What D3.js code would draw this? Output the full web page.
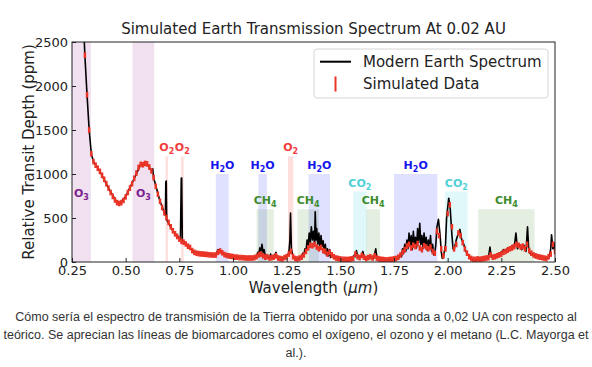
<!DOCTYPE html>
<html>
<head>
<meta charset="utf-8">
<script src="https://cdn.jsdelivr.net/npm/d3@7"></script>
<style>
  body { margin: 0; background: #fff; }
  #my_dataviz { position: absolute; left: 0; top: 0; }
  #caption {
    position: absolute; left: 0; top: 308px; width: 592px;
    text-align: center; font-family: "Liberation Sans", Arial, sans-serif;
    font-size: 12.5px; line-height: 18px; color: #333;
  }
</style>
</head>
<body>
<div id="my_dataviz"></div>
<div id="caption">Cómo sería el espectro de transmisión de la Tierra obtenido por una sonda a 0,02 UA con respecto al<br>teórico. Se aprecian las líneas de biomarcadores como el oxígeno, el ozono y el metano (L.C. Mayorga et<br>al.).</div>
<script>
const titleText = "Simulated Earth Transmission Spectrum At 0.02 AU"
const xTicks = [0.25, 0.5, 0.75, 1.0, 1.25, 1.5, 1.75, 2.0, 2.25, 2.5]
const yTicks = [0, 500, 1000, 1500, 2000, 2500]
const legendLabels = ["Modern Earth Spectrum", "Simulated Data"]

// absorption bands (µm) and their heights (ppm)
const bandNames = ["O3", "O3", "O2", "O2", "O2", "H2O", "H2O", "H2O", "H2O", "CH4", "CH4", "CH4", "CH4", "CO2", "CO2"]
const bandStart = [0.25, 0.532, 0.686, 0.758, 1.256, 0.92, 1.118, 1.352, 1.75, 1.11, 1.30, 1.62, 2.142, 1.56, 1.988]
const bandEnd   = [0.338, 0.633, 0.697, 0.770, 1.281, 0.98, 1.158, 1.452, 1.952, 1.19, 1.40, 1.685, 2.405, 1.622, 2.093]
const bandTop   = [2500, 2500, 1200, 1200, 1200, 1000, 1000, 1000, 1000, 600, 600, 600, 600, 800, 800]

// modern earth spectrum [wavelength, ppm]
const modernEarth = [
  [0.30, 2900], [0.31, 2350], [0.32, 1900], [0.33, 1500], [0.34, 1230], [0.35, 1140], [0.38, 1030],
  [0.42, 840], [0.46, 675], [0.47, 665], [0.50, 740], [0.54, 950], [0.57, 1110], [0.60, 1115],
  [0.62, 1035], [0.626, 1060], [0.63, 960], [0.66, 690], [0.685, 530], [0.687, 910], [0.689, 920],
  [0.691, 480], [0.72, 355], [0.755, 260], [0.759, 950], [0.761, 955], [0.764, 240], [0.79, 180],
  [0.82, 110], [0.86, 90], [0.92, 80], [0.93, 140], [0.94, 135], [0.95, 105], [0.97, 75], [1.00, 60],
  [1.05, 50], [1.10, 45], [1.11, 60], [1.115, 110], [1.12, 90], [1.125, 160], [1.13, 120], [1.135, 200],
  [1.14, 110], [1.145, 140], [1.15, 70], [1.16, 60], [1.17, 40], [1.175, 90], [1.18, 50], [1.19, 45],
  [1.20, 110], [1.205, 60], [1.21, 40], [1.23, 30], [1.24, 50], [1.25, 70], [1.26, 100], [1.265, 250],
  [1.268, 555], [1.272, 150], [1.28, 60], [1.29, 30], [1.30, 30], [1.31, 50], [1.32, 60], [1.325, 100],
  [1.33, 80], [1.335, 150], [1.34, 120], [1.345, 250], [1.35, 180], [1.355, 330], [1.36, 220], [1.365, 400],
  [1.37, 250], [1.375, 350], [1.38, 200], [1.383, 570], [1.387, 250], [1.39, 380], [1.395, 200], [1.40, 330],
  [1.405, 150], [1.41, 300], [1.415, 180], [1.42, 240], [1.425, 100], [1.43, 200], [1.435, 80], [1.44, 150],
  [1.445, 70], [1.45, 140], [1.455, 50], [1.46, 100], [1.47, 40], [1.48, 60], [1.49, 30], [1.50, 30],
  [1.52, 25], [1.55, 30], [1.56, 50], [1.565, 80], [1.57, 60], [1.575, 130], [1.58, 70], [1.59, 50],
  [1.60, 80], [1.605, 120], [1.61, 60], [1.62, 40], [1.63, 70], [1.64, 50], [1.65, 60], [1.655, 40],
  [1.665, 150], [1.67, 50], [1.68, 40], [1.70, 25], [1.75, 25], [1.77, 40], [1.78, 80], [1.785, 60],
  [1.79, 150], [1.795, 100], [1.80, 200], [1.805, 120], [1.81, 250], [1.815, 150], [1.82, 330], [1.825, 180],
  [1.83, 300], [1.835, 140], [1.84, 350], [1.845, 200], [1.85, 280], [1.855, 160], [1.86, 380], [1.865, 220],
  [1.87, 440], [1.875, 200], [1.88, 300], [1.885, 150], [1.89, 330], [1.895, 200], [1.90, 280], [1.905, 130],
  [1.91, 250], [1.915, 150], [1.92, 300], [1.925, 120], [1.93, 200], [1.935, 80], [1.94, 100], [1.945, 200],
  [1.95, 400], [1.957, 485], [1.965, 300], [1.97, 120], [1.975, 40], [1.98, 50], [1.99, 200], [1.995, 500],
  [2.005, 725], [2.012, 600], [2.02, 300], [2.025, 150], [2.03, 140], [2.04, 250], [2.05, 330], [2.057, 370],
  [2.065, 260], [2.075, 200], [2.085, 120], [2.095, 80], [2.11, 30], [2.13, 20], [2.15, 30], [2.17, 40],
  [2.19, 50], [2.197, 170], [2.203, 60], [2.21, 50], [2.22, 70], [2.23, 90], [2.24, 100], [2.25, 110],
  [2.26, 140], [2.27, 120], [2.28, 160], [2.29, 140], [2.30, 190], [2.31, 160], [2.318, 330], [2.325, 150],
  [2.335, 200], [2.345, 140], [2.355, 190], [2.365, 120], [2.372, 400], [2.378, 120], [2.39, 80], [2.40, 90],
  [2.41, 50], [2.42, 60], [2.43, 40], [2.44, 60], [2.45, 30], [2.46, 50], [2.47, 40], [2.475, 80],
  [2.48, 150], [2.484, 310], [2.49, 150], [2.495, 220], [2.50, 100]
]

// simulated data, one point every 0.01 µm from 0.30 to 2.50
const simWavelength = d3.range(0.30, 2.505, 0.01)
const simValues = [
  2850, 2350, 1900, 1500, 1230, 1140, 1100, 1065, 1030, 985,
  940, 890, 840, 790, 745, 705, 675, 665, 675, 700,
  740, 790, 840, 890, 950, 1010, 1075, 1110, 1105, 1120,
  1115, 1080, 1035, 960, 860, 770, 690, 620, 560, 505,
  450, 400, 355, 320, 290, 260, 235, 225, 205, 180,
  165, 130, 110, 100, 95, 92, 90, 88, 85, 82,
  80, 78, 80, 110, 125, 105, 85, 75, 70, 65,
  62, 55, 55, 50, 50, 48, 45, 45, 45, 45,
  50, 60, 80, 90, 70, 55, 60, 45, 50, 55,
  70, 45, 40, 35, 50, 60, 90, 120, 60, 40,
  35, 45, 55, 80, 120, 160, 190, 185, 200, 170,
  150, 165, 130, 120, 90, 110, 80, 60, 45, 40,
  35, 30, 30, 28, 30, 35, 40, 90, 60, 50,
  75, 55, 40, 50, 60, 45, 70, 45, 35, 30,
  28, 25, 25, 28, 30, 35, 40, 55, 80, 110,
  140, 180, 200, 160, 190, 175, 210, 160, 140, 185,
  170, 150, 170, 120, 100, 350, 300, 150, 70, 150,
  550, 650, 400, 150, 200, 330, 300, 220, 150, 100,
  60, 40, 30, 30, 35, 30, 35, 40, 45, 50,
  80, 55, 60, 70, 80, 90, 110, 120, 135, 150,
  160, 175, 200, 190, 170, 180, 150, 200, 130, 100,
  80, 70, 60, 55, 50, 45, 40, 60, 90, 200,
  120
]
const simError = 32

const molStyle = {
  O3:  { fill: "rgba(128,0,128,0.12)", text: "#7b1f8f" },
  O2:  { fill: "rgba(255,0,0,0.13)", text: "#f03c3c" },
  H2O: { fill: "rgba(0,0,255,0.12)", text: "#1515ee" },
  CH4: { fill: "rgba(34,120,20,0.12)", text: "#3d8c2c" },
  CO2: { fill: "rgba(0,200,210,0.12)", text: "#4fcfd6" }
}

const margin = { top: 42, right: 37, bottom: 105, left: 72 },
    width = 592 - margin.left - margin.right,
    height = 367 - margin.top - margin.bottom;

const font = "DejaVu Sans, sans-serif"

const svg = d3.select("#my_dataviz")
    .append("svg")
    .attr("width", 592)
    .attr("height", 305)
    .style("font-family", font)

const g = svg.append("g")
    .attr("transform", `translate(${margin.left},${margin.top})`);

const x = d3.scaleLinear().domain([0.25, 2.5]).range([0, width])
const y = d3.scaleLinear().domain([0, 2500]).range([height, 0])

g.append("clipPath").attr("id", "clip")
    .append("rect").attr("width", width).attr("height", height)

// shaded bands
g.selectAll("rect.band")
    .data(bandNames)
    .enter()
    .append("rect")
    .attr("class", "band")
    .attr("x", (d, i) => x(bandStart[i]))
    .attr("width", (d, i) => x(bandEnd[i]) - x(bandStart[i]))
    .attr("y", (d, i) => y(bandTop[i]))
    .attr("height", (d, i) => y(0) - y(bandTop[i]))
    .style("fill", d => molStyle[d].fill)

// molecule labels with subscripts
bandNames.forEach(function (name, i) {
    let cx = x((bandStart[i] + bandEnd[i]) / 2)
    let cy = name == "O3" ? y(740) : y(bandTop[i]) - 5
    let t = g.append("text")
        .attr("x", cx).attr("y", cy)
        .attr("text-anchor", "middle")
        .style("font-size", "11px")
        .style("font-weight", "bold")
        .style("fill", molStyle[name].text)
    let sub = false
    for (const ch of name) {
        let isDigit = /[0-9]/.test(ch)
        let ts = t.append("tspan").text(ch)
        if (isDigit && !sub) { ts.attr("dy", 3).style("font-size", "8px"); sub = true }
        else if (isDigit) { ts.style("font-size", "8px") }
        else if (sub) { ts.attr("dy", -3); sub = false }
    }
})

const plot = g.append("g").attr("clip-path", "url(#clip)")

const line = d3.line().x(d => x(d[0])).y(d => y(d[1]))
plot.append("path")
    .datum(modernEarth)
    .attr("d", line)
    .style("fill", "none")
    .style("stroke", "#000")
    .style("stroke-width", 1.6)
    .style("stroke-linejoin", "round")

plot.selectAll("line.sim")
    .data(simValues)
    .enter()
    .append("line")
    .attr("class", "sim")
    .attr("x1", (d, i) => x(simWavelength[i]))
    .attr("x2", (d, i) => x(simWavelength[i]))
    .attr("y1", d => y(d - simError))
    .attr("y2", d => y(d + simError))
    .style("stroke", "#eb3326")
    .style("stroke-width", 2.5)

// axes, ticks pointing inward
const xAxis = g.append("g")
    .attr("transform", `translate(0, ${height})`)
    .call(d3.axisBottom(x).tickValues(xTicks).tickFormat(d3.format(".2f"))
        .tickSizeInner(-4).tickSizeOuter(0).tickPadding(4))
const yAxis = g.append("g")
    .call(d3.axisLeft(y).tickValues(yTicks).tickFormat(d3.format("d"))
        .tickSizeInner(-4).tickSizeOuter(0).tickPadding(4))
;[xAxis, yAxis].forEach(function (a) {
    a.attr("font-family", font).attr("font-size", 13)
    a.select(".domain").remove()
    a.selectAll("line").style("stroke", "#222")
    a.selectAll("text").style("fill", "#222")
})

g.append("rect")
    .attr("width", width).attr("height", height)
    .style("fill", "none").style("stroke", "#222").style("stroke-width", 1)

// titles
svg.append("text")
    .attr("x", margin.left + width / 2).attr("y", 34)
    .attr("text-anchor", "middle")
    .style("font-size", "15px").style("fill", "#222")
    .text(titleText)

const xl = svg.append("text")
    .attr("x", margin.left + width / 2).attr("y", 293)
    .attr("text-anchor", "middle")
    .style("font-size", "15px").style("fill", "#222")
xl.append("tspan").text("Wavelength (")
xl.append("tspan").style("font-style", "italic").text("μm")
xl.append("tspan").text(")")

svg.append("text")
    .attr("transform", `translate(34, ${margin.top + height / 2}) rotate(-90)`)
    .attr("text-anchor", "middle")
    .style("font-size", "15px").style("fill", "#222")
    .text("Relative Transit Depth (ppm)")

// legend
const legend = svg.append("g").attr("transform", "translate(314, 49)")
legend.append("rect")
    .attr("width", 234).attr("height", 49).attr("rx", 3)
    .style("fill", "#fff").style("fill-opacity", 0.85)
    .style("stroke", "#d6d6d6").style("stroke-width", 1)
legend.append("line")
    .attr("x1", 6).attr("x2", 37).attr("y1", 12.7).attr("y2", 12.7)
    .style("stroke", "#000").style("stroke-width", 2)
legend.append("line")
    .attr("x1", 21.5).attr("x2", 21.5).attr("y1", 27.5).attr("y2", 42.5)
    .style("stroke", "#eb3326").style("stroke-width", 2)
legend.selectAll("text.lg")
    .data(legendLabels)
    .enter()
    .append("text")
    .attr("class", "lg")
    .attr("x", 49)
    .attr("y", (d, i) => 18 + i * 21.5)
    .style("font-size", "15px").style("fill", "#222")
    .text(d => d)
</script>
</body>
</html>
